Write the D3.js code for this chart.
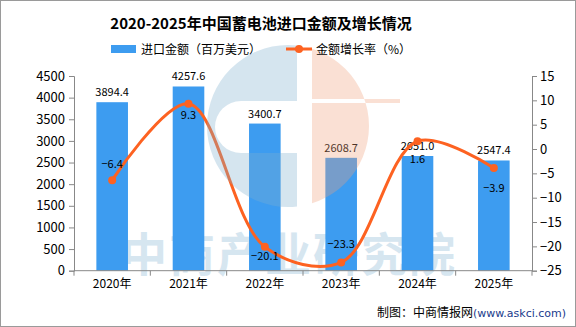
<!DOCTYPE html>
<html><head><meta charset="utf-8">
<script src="https://cdn.jsdelivr.net/npm/d3@7"></script>
<style>body{margin:0;background:#fff}svg{display:block}text{font-family:"Noto Sans CJK SC","DejaVu Sans",sans-serif}</style>
</head><body>
<svg id="c" width="576" height="327"></svg>
<script>
const categories = ["2020年","2021年","2022年","2023年","2024年","2025年"];
const importValues = [3894.4, 4257.6, 3400.7, 2608.7, 2651.0, 2547.4];
const growthRates = [-6.4, 9.3, -20.1, -23.3, 1.6, -3.9];
const leftTicks = [0,500,1000,1500,2000,2500,3000,3500,4000,4500];
const rightTicks = [-25,-20,-15,-10,-5,0,5,10,15];

const svg = d3.select("#c");
const W = 576, H = 327;
const m = {l:74, r:532, t:76, b:270.7};
const barColor = "#3d9cf0", lineColor = "#fd6221";

svg.append("rect").attr("x",0.5).attr("y",0.5).attr("width",W-1).attr("height",H-1)
  .attr("fill","#fff").attr("stroke","#9a9a9a");

// watermark text (behind)
svg.append("text").attr("x",289).attr("y",271).attr("text-anchor","middle")
  .attr("font-size",46).attr("font-weight","bold").attr("fill","#d6e6f0")
  .attr("letter-spacing",2).text("中商产业研究院");

const x = d3.scaleBand().domain(categories).range([m.l,m.r]).paddingInner(0.586).paddingOuter(0.293);
const yL = d3.scaleLinear().domain([0,4500]).range([m.b,m.t]);
const yR = d3.scaleLinear().domain([-25,15]).range([m.b,m.t]);

// bars
svg.append("g").selectAll("rect").data(importValues).join("rect")
  .attr("x",(d,i)=>x(categories[i])).attr("width",x.bandwidth())
  .attr("y",d=>yL(d)).attr("height",d=>yL(0)-yL(d)).attr("fill",barColor);

// axes
const axL = svg.append("g").attr("transform",`translate(${m.l},0)`)
  .call(d3.axisLeft(yL).tickValues(leftTicks).tickSize(5).tickPadding(4).tickFormat(d3.format("d")));
const axR = svg.append("g").attr("transform",`translate(${m.r},0)`)
  .call(d3.axisRight(yR).tickValues(rightTicks).tickSize(5).tickPadding(3).tickFormat(d=>d<0?"−"+Math.abs(d):d));
const xb = d3.scalePoint().domain(d3.range(categories.length+1)).range([m.l,m.r]);
const axB = svg.append("g").attr("transform",`translate(0,${m.b})`)
  .call(d3.axisBottom(x).tickSize(0).tickPadding(9));
axB.append("g").selectAll("line").data(d3.range(categories.length+1)).join("line")
  .attr("x1",d=>xb(d)).attr("x2",d=>xb(d)).attr("y1",0).attr("y2",5).attr("stroke","#888");
[axL,axR,axB].forEach(a=>{
  a.selectAll("path,line").attr("stroke","#888");
  a.selectAll("text").attr("fill","#000").attr("font-family","'DejaVu Sans',sans-serif");
});
axL.selectAll("text").attr("font-size",13);
axR.selectAll("text").attr("font-size",13);
axB.selectAll("text").attr("font-size",12).attr("font-family","'Noto Sans CJK SC',sans-serif");
axB.select(".domain").attr("d",`M${m.l},0H${m.r}`);

// bar labels
svg.append("g").selectAll("text").data(importValues).join("text")
  .attr("x",(d,i)=>x(categories[i])+x.bandwidth()/2).attr("y",d=>yL(d)-6)
  .attr("text-anchor","middle").attr("font-size",11).attr("font-family","'DejaVu Sans Mono',monospace")
  .attr("fill","#000").text(d=>d.toFixed(1));

// line
const cx = i => x(categories[i])+x.bandwidth()/2;
const line = d3.line().x((d,i)=>cx(i)).y(d=>yR(d)).curve(d3.curveCatmullRom.alpha(0.5));
svg.append("path").datum(growthRates).attr("d",line).attr("fill","none")
  .attr("stroke",lineColor).attr("stroke-width",3);
svg.append("g").selectAll("circle").data(growthRates).join("circle")
  .attr("cx",(d,i)=>cx(i)).attr("cy",d=>yR(d)).attr("r",4).attr("fill",lineColor);
const labelDy = [-12, 15, 13, -14, 22, 24];
svg.append("g").selectAll("text").data(growthRates).join("text")
  .attr("x",(d,i)=>cx(i)).attr("y",(d,i)=>yR(d)+labelDy[i])
  .attr("text-anchor","middle").attr("font-size",11).attr("font-family","'DejaVu Sans Mono',monospace")
  .attr("fill","#000").text(d=>(d<0?"−"+Math.abs(d).toFixed(1):d.toFixed(1)));

// logo watermark (on top, translucent)
const defs = svg.append("defs");
defs.append("clipPath").attr("id","cl").append("rect").attr("x",150).attr("y",30).attr("width",147).attr("height",200);
defs.append("clipPath").attr("id","cr").append("rect").attr("x",312).attr("y",30).attr("width",100).attr("height",200);
const lg = svg.append("g").attr("opacity",0.32);
const circ = "M207,126 A81,81 0 1 0 369,126 A81,81 0 1 0 207,126 Z";
lg.append("g").attr("clip-path","url(#cl)").append("path")
  .attr("fill-rule","evenodd").attr("fill","#7fb0cf")
  .attr("d", circ + " M297,101 H241 A26,26 0 0 0 241,153 H297 Z");
lg.append("g").attr("clip-path","url(#cr)").append("path")
  .attr("fill-rule","evenodd").attr("fill","#f0a17b")
  .attr("d", circ + " M312,99 H400 V103 H312 Z");

// title
svg.append("text").attr("x",261).attr("y",29).attr("text-anchor","middle")
  .attr("font-size",15).attr("font-weight","bold").attr("fill","#000")
  .text("2020-2025年中国蓄电池进口金额及增长情况");

// legend
svg.append("rect").attr("x",111).attr("y",45).attr("width",25).attr("height",8).attr("fill",barColor);
svg.append("text").attr("x",141).attr("y",53.5).attr("font-size",12).attr("fill","#000").text("进口金额（百万美元）");
svg.append("line").attr("x1",286).attr("x2",312).attr("y1",49).attr("y2",49).attr("stroke",lineColor).attr("stroke-width",3);
svg.append("circle").attr("cx",299).attr("cy",49).attr("r",4).attr("fill",lineColor);
svg.append("text").attr("x",316).attr("y",53.5).attr("font-size",12).attr("fill","#000").text("金额增长率（%）");

// footer
const ft = svg.append("text").attr("x",377).attr("y",317).attr("font-size",12).attr("fill","#000");
ft.append("tspan").text("制图：中商情报网");
ft.append("tspan").attr("fill","#1a3a8c").attr("font-size",11).attr("font-family","'DejaVu Sans',sans-serif").text("(www.askci.com)");
</script>
</body></html>
